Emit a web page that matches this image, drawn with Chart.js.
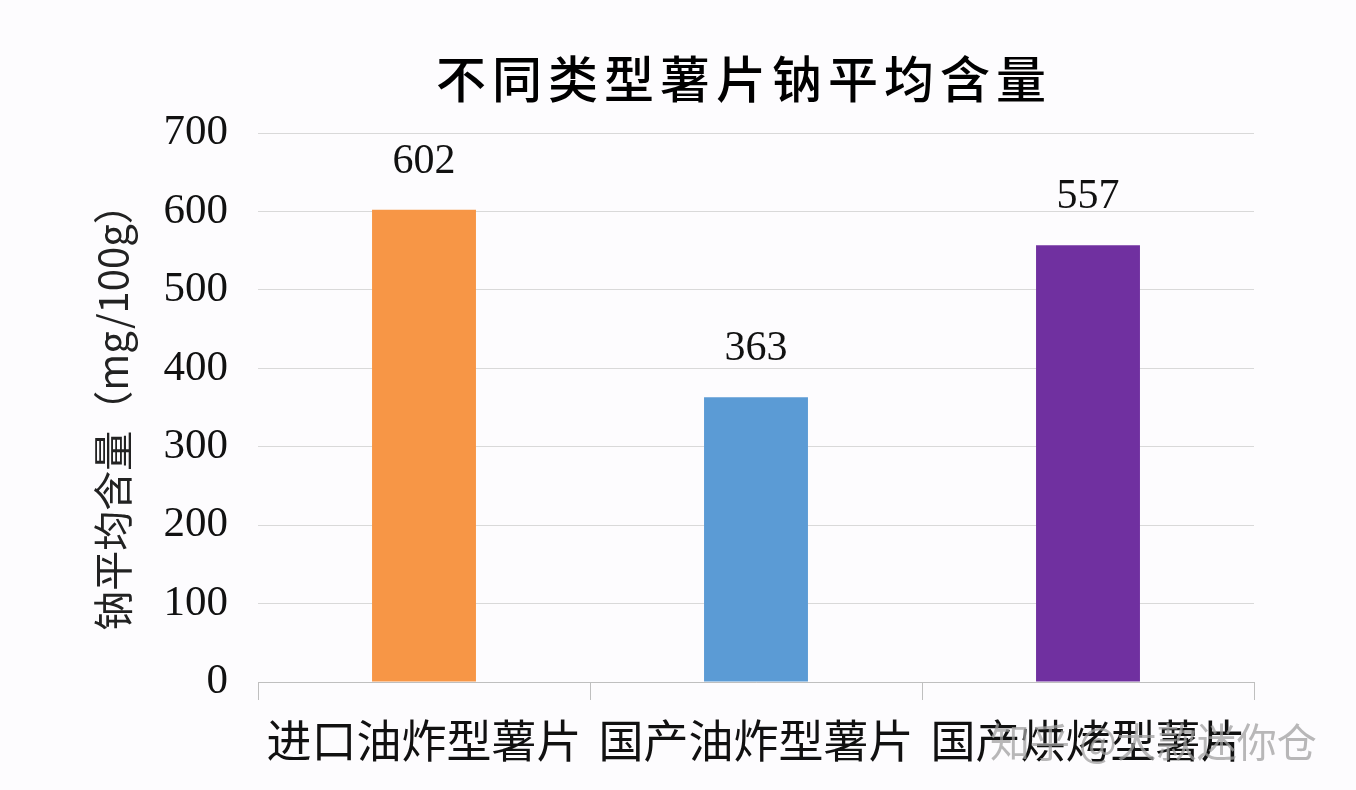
<!DOCTYPE html>
<html>
<head>
<meta charset="utf-8">
<script src="https://cdn.jsdelivr.net/npm/chart.js@4"></script>
<style>
  html, body { margin: 0; padding: 0; background: #fdfcfe; }
  #wrap { position: relative; width: 1356px; height: 790px; }
  #title {
    position: absolute; left: 744px; top: 46px; transform: translateX(-50%);
    font-family: "Noto Sans CJK SC", sans-serif; font-size: 50px; line-height: 60px;
    font-weight: 500; letter-spacing: 6px; color: #000; white-space: nowrap;
  }
  #mark {
    position: absolute; left: 990px; top: 715px;
    font-family: "Noto Sans CJK SC", sans-serif; font-size: 40px; line-height: 50px;
    color: rgba(160, 160, 160, 0.75); white-space: nowrap;
  }
</style>
</head>
<body>
<div id="wrap">
  <canvas id="sodiumChart" width="1356" height="790"></canvas>
  <div id="title">不同类型薯片钠平均含量</div>
  <div id="mark">知乎 @大款迷你仓</div>
</div>
<script>
// chart data
const categories = ['进口油炸型薯片', '国产油炸型薯片', '国产烘烤型薯片'];
const sodiumValues = [602, 363, 557];
const barColors = ['#f79646', '#5b9bd5', '#7030a0'];
const yTitle = '钠平均含量（mg/100g）';

// value labels above the bars
const valueLabels = {
    id: 'valueLabels',
    afterDatasetsDraw(chart) {
        const ctx = chart.ctx;
        const meta = chart.getDatasetMeta(0);
        ctx.save();
        ctx.font = '42px "Liberation Serif", serif';
        ctx.fillStyle = '#111';
        ctx.textAlign = 'center';
        ctx.textBaseline = 'middle';
        meta.data.forEach((bar, i) => {
            ctx.fillText(String(sodiumValues[i]), bar.x, bar.y - 48);
        });
        ctx.restore();
    }
};

const ctx = document.getElementById('sodiumChart').getContext('2d');
new Chart(ctx, {
    type: 'bar',
    data: {
        labels: categories,
        datasets: [{
            data: sodiumValues,
            backgroundColor: barColors,
            borderWidth: 0,
            categoryPercentage: 1,
            barPercentage: 0.313
        }]
    },
    options: {
        responsive: false,
        animation: false,
        layout: { padding: { left: 0, right: 102, top: 133, bottom: 0 } },
        plugins: {
            legend: { display: false },
            tooltip: { enabled: false }
        },
        scales: {
            x: {
                grid: { drawOnChartArea: false, color: '#bfbfbf', tickLength: 18, offset: true },
                border: { display: true, color: '#bfbfbf' },
                ticks: {
                    color: '#111',
                    padding: 14,
                    maxRotation: 0,
                    autoSkip: false,
                    font: { family: '"Noto Sans CJK SC", sans-serif', size: 45 }
                },
                afterFit: function(scale) { scale.height = 108; }
            },
            y: {
                min: 0,
                max: 700,
                grid: { color: '#d9d9d9', drawTicks: false },
                border: { display: false },
                ticks: {
                    stepSize: 100,
                    padding: 30,
                    color: '#111',
                    font: { family: '"Liberation Serif", serif', size: 43 }
                },
                title: {
                    display: true,
                    text: yTitle,
                    color: '#222',
                    padding: { top: 89, bottom: 0 },
                    font: { family: '"Noto Sans CJK SC", sans-serif', size: 40 }
                },
                afterFit: function(scale) { scale.width = 258; }
            }
        }
    },
    plugins: [valueLabels]
});
</script>
</body>
</html>
